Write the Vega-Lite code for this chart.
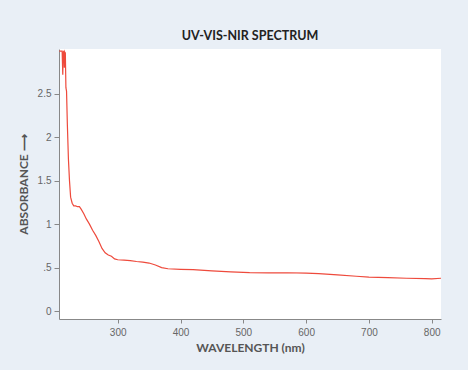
{
  "$schema": "https://vega.github.io/schema/vega-lite/v6.json",
  "autosize": "none",
  "width": 382,
  "height": 270,
  "padding": {"left": 59, "top": 49, "right": 27, "bottom": 51},
  "background": "#E9EFF6",
  "view": {"fill": "white", "stroke": null},
  "title": {
    "text": "UV-VIS-NIR SPECTRUM",
    "fontSize": 12.5,
    "font": "Lato",
    "fontWeight": "bold",
    "color": "#222222",
    "anchor": "middle",
    "offset": 7
  },
  "data": {
    "values": [
      {"wl": 207, "a": 2.99}, {"wl": 211.5, "a": 2.99}, {"wl": 212.5, "a": 2.72},
      {"wl": 213.3, "a": 2.98}, {"wl": 214.5, "a": 2.99}, {"wl": 215, "a": 2.8},
      {"wl": 215.6, "a": 2.98}, {"wl": 216.6, "a": 2.97}, {"wl": 217.5, "a": 2.57},
      {"wl": 218.5, "a": 2.53}, {"wl": 219.8, "a": 2.15}, {"wl": 221.5, "a": 1.75},
      {"wl": 223.2, "a": 1.5}, {"wl": 225, "a": 1.31}, {"wl": 227.5, "a": 1.24},
      {"wl": 230, "a": 1.21}, {"wl": 233, "a": 1.21}, {"wl": 236, "a": 1.2},
      {"wl": 239, "a": 1.2}, {"wl": 242, "a": 1.17}, {"wl": 246, "a": 1.12},
      {"wl": 250, "a": 1.06}, {"wl": 255, "a": 1.0}, {"wl": 260, "a": 0.93},
      {"wl": 265, "a": 0.87}, {"wl": 270, "a": 0.8}, {"wl": 275, "a": 0.72},
      {"wl": 280, "a": 0.67}, {"wl": 285, "a": 0.645}, {"wl": 290, "a": 0.63},
      {"wl": 295, "a": 0.6}, {"wl": 300, "a": 0.59}, {"wl": 310, "a": 0.586},
      {"wl": 320, "a": 0.58}, {"wl": 330, "a": 0.57}, {"wl": 340, "a": 0.562},
      {"wl": 350, "a": 0.552}, {"wl": 360, "a": 0.53}, {"wl": 370, "a": 0.5},
      {"wl": 380, "a": 0.486}, {"wl": 400, "a": 0.48}, {"wl": 420, "a": 0.476},
      {"wl": 450, "a": 0.462}, {"wl": 480, "a": 0.45}, {"wl": 510, "a": 0.441},
      {"wl": 540, "a": 0.438}, {"wl": 570, "a": 0.44}, {"wl": 600, "a": 0.436},
      {"wl": 620, "a": 0.43}, {"wl": 650, "a": 0.415}, {"wl": 680, "a": 0.4},
      {"wl": 700, "a": 0.39}, {"wl": 730, "a": 0.383}, {"wl": 760, "a": 0.377},
      {"wl": 790, "a": 0.372}, {"wl": 800, "a": 0.37}, {"wl": 814.8, "a": 0.377}
    ]
  },
  "mark": {"type": "line", "color": "#EE4A3C", "strokeWidth": 1.2, "clip": true},
  "encoding": {
    "x": {
      "field": "wl",
      "type": "quantitative",
      "scale": {"domain": [206.5, 814.8], "nice": false, "zero": false},
      "axis": {
        "title": "WAVELENGTH (nm)",
        "values": [300, 400, 500, 600, 700, 800],
        "grid": false,
        "domainColor": "#888888",
        "tickColor": "#888888",
        "tickSize": 4,
        "labelColor": "#666666",
        "labelFont": "Liberation Sans",
        "labelFontSize": 10,
        "labelPadding": 4,
        "titleFont": "Lato",
        "titleFontSize": 12,
        "titleFontWeight": "bold",
        "titleColor": "#555555",
        "titlePadding": 5
      }
    },
    "y": {
      "field": "a",
      "type": "quantitative",
      "scale": {"domain": [-0.092, 3.015], "nice": false, "zero": false},
      "axis": {
        "title": "ABSORBANCE ⟶",
        "values": [0, 0.5, 1, 1.5, 2, 2.5],
        "labelExpr": "datum.value == 0.5 ? '.5' : format(datum.value, '~g')",
        "grid": false,
        "domainColor": "#888888",
        "tickColor": "#888888",
        "tickSize": 5,
        "labelColor": "#666666",
        "labelFont": "Liberation Sans",
        "labelFontSize": 10,
        "labelPadding": 3,
        "titleFont": "Lato",
        "titleFontSize": 12,
        "titleFontWeight": "bold",
        "titleColor": "#555555",
        "titlePadding": 7
      }
    }
  }
}
